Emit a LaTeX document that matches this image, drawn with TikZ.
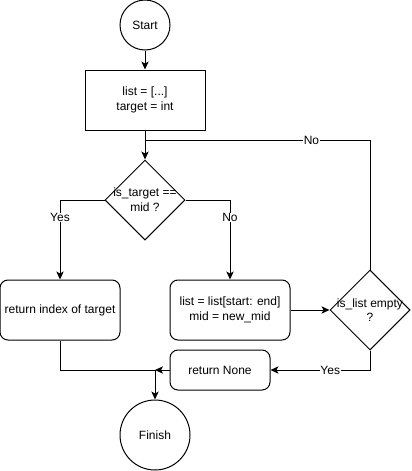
\documentclass[tikz,border=0pt]{standalone}
\usepackage{fontspec}
\setmainfont{Liberation Sans}
\usetikzlibrary{arrows.meta}
\usetikzlibrary{shapes.geometric}

\begin{document}
\begin{tikzpicture}[x=0.75pt,y=-0.75pt,
  font=\fontsize{9}{11}\selectfont,
  link/.style={black,line width=0.75pt},
  flow/.style={link,-{Stealth[length=6pt,width=5.5pt,inset=1.5pt]}},
  term/.style={draw,line width=0.75pt,circle,inner sep=0pt},
  proc/.style={draw,line width=0.75pt,rectangle,minimum width=90pt,minimum height=45pt,align=center},
  roundproc/.style={proc,rounded corners=6pt},
  decision/.style={draw,line width=0.75pt,diamond,aspect=1,minimum width=60pt,minimum height=60pt,inner sep=0pt},
  tag/.style={fill=white,inner sep=0.5pt}]

\useasboundingbox (0,0) rectangle (411,471);

\node[term,minimum size=37.5pt] (start) at (145,25) {Start};
\node[proc] (init) at (145,100) {list = [...]\\target = int};
\node[decision] (check) at (145,200) {};
\node[align=center] (checktext) at (check) {is\_target ==\\mid ?};
\node[roundproc] (found) at (60,310) {return index of target};
\node[roundproc] (split) at (230,310) {list = list[start: end]\\mid = new\_mid};
\node[decision] (empty) at (370,310) {};
\node[align=center] (emptytext) at (empty) {is\_list empty\\?};
\node[roundproc,minimum width=75pt,minimum height=30pt] (none) at (220,370) {return None};
\node[term,minimum size=52.5pt] (finish) at (155,435) {Finish};

\coordinate (join) at (145,140);
\coordinate (merge) at (155,370);

\draw[flow] (start) -- (init);
\draw[flow] (init) -- (check);
\draw[link] (empty.north) |- (join) node[tag,pos=0.63] {No};
\draw[flow] (check.west) -| (found.north) node[tag,pos=0.61] {Yes};
\draw[flow] (check.east) -| (split.north) node[tag,pos=0.61] {No};
\draw[flow] (split) -- (empty);
\draw[flow] (empty.south) |- (none) node[tag,pos=0.7] {Yes};
\draw[link] (found.south) |- (merge);
\draw[flow] (none) -- (merge);
\draw[flow] (merge) -- (finish);

\end{tikzpicture}
\end{document}
